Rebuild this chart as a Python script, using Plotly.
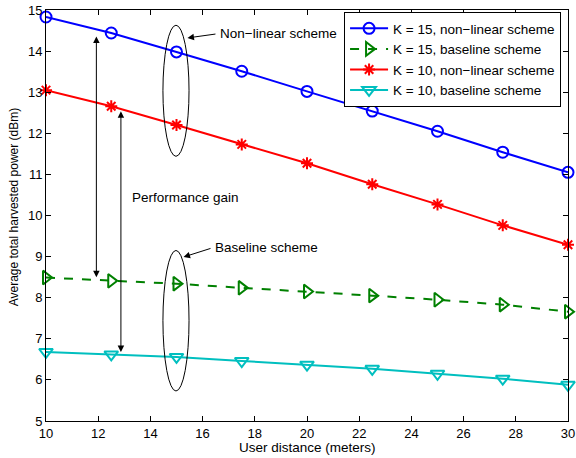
import plotly.graph_objects as go

distance = [10, 12.5, 15, 17.5, 20, 22.5, 25, 27.5, 30]
k15_nonlinear = [14.83, 14.44, 13.98, 13.51, 13.02, 12.54, 12.05, 11.54, 11.05]
k15_baseline = [8.49, 8.41, 8.34, 8.24, 8.15, 8.05, 7.95, 7.83, 7.66]
k10_nonlinear = [13.05, 12.66, 12.20, 11.73, 11.27, 10.76, 10.27, 9.76, 9.29]
k10_baseline = [6.68, 6.62, 6.56, 6.46, 6.37, 6.27, 6.15, 6.03, 5.88]

series = [
    ("K = 15, non\u2212linear scheme", k15_nonlinear, "#0000FF", "circle-open", "solid", 11),
    ("K = 15, baseline scheme", k15_baseline, "#008000", "triangle-right-open", "dash", 12),
    ("K = 10, non\u2212linear scheme", k10_nonlinear, "#FF0000", "asterisk-open", "solid", 10),
    ("K = 10, baseline scheme", k10_baseline, "#00BFBF", "triangle-down-open", "solid", 12),
]

FAM = "Liberation Sans, Arial, sans-serif"
font = dict(family=FAM, size=13.5, color="black")

fig = go.Figure()
for name, ys, color, sym, dash, size in series:
    fig.add_trace(go.Scatter(
        x=distance, y=ys, name=name, mode="lines+markers", cliponaxis=False,
        line=dict(color=color, width=2, dash=dash),
        marker=dict(symbol=sym, size=size, color=color, line=dict(color=color, width=2)),
    ))

# ellipses
fig.add_shape(type="circle", xref="x", yref="y", x0=14.48, x1=15.48, y0=11.44, y1=14.63,
              line=dict(color="black", width=1))
fig.add_shape(type="circle", xref="x", yref="y", x0=14.48, x1=15.48, y0=5.73, y1=9.15,
              line=dict(color="black", width=1))

# labels with arrows
fig.add_annotation(x=15.42, y=14.32, ax=16.55, ay=14.42, xref="x", yref="y", axref="x", ayref="y",
                   text="", showarrow=True, arrowhead=2, arrowsize=1.3, arrowwidth=1, arrowcolor="black")
fig.add_annotation(x=16.58, y=14.42, xref="x", yref="y", text="Non\u2212linear scheme", showarrow=False,
                   xanchor="left", font=font)
fig.add_annotation(x=15.27, y=8.99, ax=16.36, ay=9.21, xref="x", yref="y", axref="x", ayref="y",
                   text="", showarrow=True, arrowhead=2, arrowsize=1.3, arrowwidth=1, arrowcolor="black")
fig.add_annotation(x=16.38, y=9.21, xref="x", yref="y", text="Baseline scheme", showarrow=False,
                   xanchor="left", font=font)

# performance gain double arrows
fig.add_annotation(x=11.93, y=8.50, ax=11.93, ay=14.39, xref="x", yref="y", axref="x", ayref="y",
                   text="", showarrow=True, arrowhead=2, startarrowhead=2, arrowside="end+start",
                   arrowsize=1.3, startarrowsize=1.3, arrowwidth=1, arrowcolor="black")
fig.add_annotation(x=12.87, y=6.68, ax=12.87, ay=12.57, xref="x", yref="y", axref="x", ayref="y",
                   text="", showarrow=True, arrowhead=2, startarrowhead=2, arrowside="end+start",
                   arrowsize=1.3, startarrowsize=1.3, arrowwidth=1, arrowcolor="black")
fig.add_annotation(x=13.2, y=10.45, xref="x", yref="y", text="Performance gain", showarrow=False,
                   xanchor="left", font=font)

# axis titles
fig.add_annotation(x=-0.0613, y=0.52, xref="paper", yref="paper", text="Average total harvested power (dBm)",
                   textangle=-90, showarrow=False, xanchor="center", yanchor="middle",
                   font=dict(family=FAM, size=12, color="black"))
fig.add_annotation(x=0.5, y=-0.0633, xref="paper", yref="paper", text="User distance (meters)",
                   showarrow=False, xanchor="center", yanchor="middle",
                   font=dict(family=FAM, size=13.5, color="black"))

axis_common = dict(showgrid=False, zeroline=False, showline=True, linecolor="black", linewidth=1,
                   mirror="ticks", ticks="inside", ticklen=5, tickcolor="black", automargin=False,
                   tickfont=dict(family=FAM, size=13, color="black"))

fig.update_layout(
    width=576, height=458,
    margin=dict(l=46, r=8, t=10, b=37),
    paper_bgcolor="white", plot_bgcolor="white",
    font=font,
    xaxis=dict(range=[10, 30], dtick=2, **axis_common),
    yaxis=dict(range=[5, 15], dtick=1, **axis_common),
    legend=dict(x=0.571, y=0.995, xanchor="left", yanchor="top", bgcolor="white",
                bordercolor="black", borderwidth=1, font=dict(family=FAM, size=13.5, color="black"),
                tracegroupgap=0, itemwidth=38),
    showlegend=True,
)

fig.write_html("out.html", config={"displayModeBar": False},
               post_script="document.body.style.margin='0';document.body.style.overflow='hidden';")
